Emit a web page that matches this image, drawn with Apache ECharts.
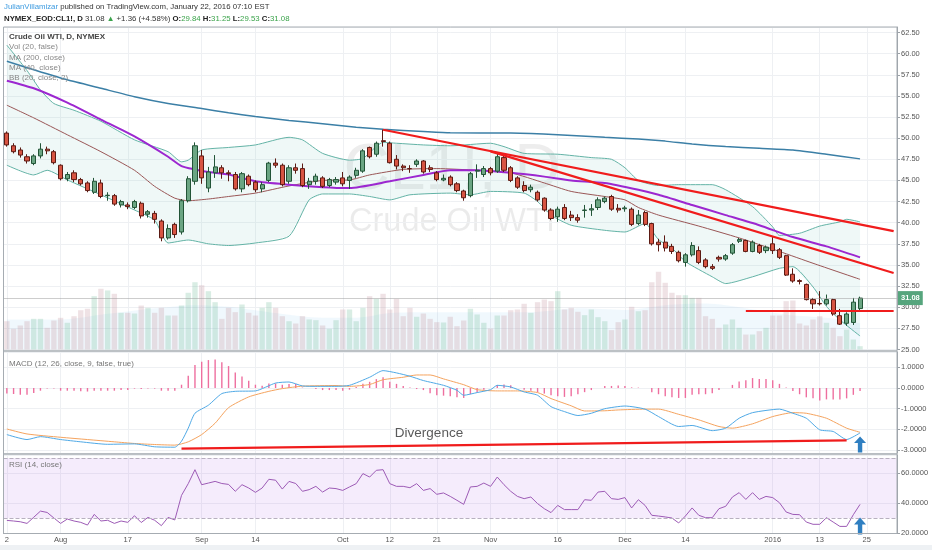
<!DOCTYPE html>
<html>
<head>
<meta charset="utf-8">
<script src="https://cdn.jsdelivr.net/npm/echarts@6/dist/echarts.min.js"></script>
<style>
html, body { margin: 0; padding: 0; background: #fff; }
#main { width: 932px; height: 550px; }
</style>
</head>
<body>
<div id="main"></div>
<script>
// trading days shown on the time axis (last five are empty future slots)
var julDays = [22,23,24,27,28,29,30,31];
var augDays = [3,4,5,6,7,10,11,12,13,14,17,18,19,20,21,24,25,26,27,28,31];
var sepDays = [1,2,3,4,8,9,10,11,14,15,16,17,18,21,22,23,24,25,28,29,30];
var octDays = [1,2,5,6,7,8,9,12,13,14,15,16,19,20,21,22,23,26,27,28,29,30];
var novDays = [2,3,4,5,6,9,10,11,12,13,16,17,18,19,20,23,24,25,27,30];
var decDays = [1,2,3,4,7,8,9,10,11,14,15,16,17,18,21,22,23,24,28,29,30,31];
var janDays = [4,5,6,7,8,11,12,13,14,15,19,20,21,22,25,26,27,28,29];

var tickDates = ['2015-07-22','2015-08-03','2015-08-17','2015-09-01','2015-09-14','2015-10-01','2015-10-12',
  '2015-10-21','2015-11-02','2015-11-16','2015-12-01','2015-12-14','2016-01-04','2016-01-13','2016-01-25'];
var tickText = ['2','Aug','17','Sep','14','Oct','12','21','Nov','16','Dec','14','2016','13','25'];

var opens = [50.6,49.1,48.6,47.8,47.0,47.9,48.7,48.4,
  46.8,45.2,45.9,45.1,44.7,43.6,44.7,43.2,43.2,42.1,
  42.1,41.8,42.3,41.0,41.1,40.2,38.2,39.8,38.9,42.6,44.9,
  47.9,44.1,45.9,46.5,45.9,45.7,44.0,45.5,44.8,44.0,45.0,47.05,46.8,44.9,46.5,46.4,44.5,44.9,45.3,44.4,44.8,
  45.3,45.0,45.6,46.1,48.9,48.1,49.7,49.4,47.5,46.7,46.4,46.9,47.3,46.5,45.9,45.05,45.4,44.6,43.75,43.2,46.1,45.7,
  46.4,46.1,47.7,46.5,45.3,44.4,43.9,43.6,42.9,41.5,40.7,41.8,40.9,40.6,41.45,41.5,41.8,42.5,43.1,41.7,
  41.65,41.6,39.9,41.2,39.9,37.7,37.7,37.2,36.5,35.3,36.2,36.7,35.6,34.8,35.9,35.7,36.4,37.8,37.9,36.6,37.3,36.7,
  37.5,36.8,36.1,33.9,33.15,32.7,30.9,30.45,30.4,30.9,29.0,28.1,28.2,29.84];
var closes = [49.2,48.4,48.0,47.3,47.9,48.7,48.5,47.1,
  45.2,45.7,45.1,44.6,43.8,44.9,43.1,43.25,42.2,42.5,
  41.9,42.5,40.8,41.3,40.4,38.2,39.3,38.6,42.6,45.2,49.1,
  45.3,46.0,46.6,45.9,45.8,44.0,45.8,44.5,43.9,44.5,47.05,46.8,44.5,46.5,46.2,44.4,44.9,45.5,44.3,45.1,45.1,
  44.6,45.4,46.2,48.5,47.8,49.4,49.6,47.1,46.7,46.5,46.38,47.3,46.0,46.3,45.1,45.25,44.5,43.8,42.95,45.8,46.2,46.4,
  45.9,47.8,46.2,45.0,44.2,43.8,44.2,42.7,41.5,40.5,41.6,40.5,40.6,40.3,41.5,41.65,42.7,42.9,41.6,41.5,
  41.75,39.8,40.9,39.8,37.5,37.4,37.0,36.6,35.5,36.2,37.3,35.3,34.8,34.6,35.7,36.1,37.4,38.0,36.6,37.7,36.5,37.1,
  36.7,35.9,33.8,33.1,33.05,30.9,30.4,30.4,30.9,29.2,28.0,29.2,30.6,31.08];
var lows = [49.0,48.2,47.7,47.0,46.8,47.6,48.1,46.9,
  45.0,44.9,44.8,44.4,43.6,43.4,42.9,42.6,42.0,41.8,
  41.6,41.6,40.5,40.6,39.9,37.8,38.0,38.2,38.6,42.4,44.5,
  44.6,43.6,45.3,45.2,44.9,43.8,43.6,44.3,43.6,43.6,44.8,46.5,44.3,44.6,45.8,44.2,44.0,44.5,44.1,44.2,44.5,
  44.3,44.0,45.3,45.9,47.6,47.8,49.0,47.0,46.3,46.1,45.9,46.6,45.8,46.0,44.9,44.9,44.3,43.6,42.6,43.0,45.3,45.4,
  45.6,45.9,46.0,44.8,44.0,43.6,43.6,42.5,41.3,40.3,40.1,40.3,40.2,40.0,40.6,40.8,41.5,42.3,41.4,41.2,
  41.3,39.6,39.7,39.6,37.3,36.6,36.6,36.3,35.3,34.8,36.0,35.1,34.6,34.4,35.4,35.5,36.2,37.6,36.5,36.5,36.3,36.4,
  36.3,35.7,33.7,32.9,32.7,30.8,29.8,30.2,30.2,29.0,27.9,27.8,27.9,29.53];
var highs = [50.8,49.4,48.9,48.1,48.1,49.4,49.0,48.6,
  46.9,46.0,46.2,45.3,44.9,45.3,45.1,43.6,43.4,42.7,
  42.4,42.7,42.5,41.5,41.4,40.4,39.8,40.0,42.8,45.5,49.5,
  48.6,46.6,48.0,46.8,46.2,46.0,46.0,45.7,45.0,44.8,47.2,47.6,47.0,46.8,47.0,47.0,45.3,45.8,45.5,45.3,45.4,
  46.0,45.6,46.5,48.7,49.0,49.6,51.0,49.6,48.0,46.9,46.8,47.5,47.4,46.8,46.1,45.7,45.6,44.8,43.9,46.0,46.9,46.7,
  46.6,48.2,47.9,46.7,45.5,44.9,44.5,43.8,43.0,41.7,41.9,42.2,41.4,41.0,42.1,42.2,43.0,43.1,43.3,42.2,
  42.0,41.8,41.5,41.4,40.0,38.1,38.5,37.5,36.7,36.4,37.7,37.2,35.8,35.1,36.1,36.3,37.6,38.2,38.0,37.9,37.5,37.3,
  38.3,37.0,36.2,34.6,33.3,32.8,31.1,31.9,31.5,31.0,29.8,29.4,31.1,31.25];

// volume, thousands of contracts
var volumes = [357,261,303,357,387,387,274,366,
  400,337,420,496,514,673,766,745,703,463,
  463,454,555,526,463,526,429,429,555,716,849,
  811,736,597,387,526,471,568,463,429,526,597,526,420,357,328,420,379,370,303,261,370,
  505,505,357,526,673,640,703,505,640,420,526,413,454,387,345,341,413,294,366,514,442,337,
  265,429,429,496,505,577,463,597,631,610,736,505,526,476,433,505,408,357,244,345,
  379,539,483,496,849,981,842,716,685,685,652,652,420,387,274,316,379,274,189,189,231,274,
  429,429,610,618,328,303,379,420,337,274,168,252,126,42];
var volMa = [[0,380],[8,380],[15,450],[22,520],[28,560],[33,540],[40,460],[47,400],[52,400],[57,460],
  [63,470],[70,470],[78,470],[85,520],[92,500],[98,560],[104,580],[110,520],[116,440],[122,400],[127,330]];

// overlays read at [bar index, price]
var ma200 = [[0,59.1],[4,58.1],[9,56.9],[14,55.9],[19,54.9],[24,54.1],[29,53.5],[33,53.0],[37,52.55],[42,52.1],
  [47,51.7],[52,51.3],[56,51.05],[62,50.8],[66,50.65],[75,50.6],[82,50.4],[89,50.1],[94,49.9],[98,49.65],
  [102,49.3],[107,49.0],[112,48.8],[117,48.6],[122,48.1],[127,47.55]];
var ma50 = [[0,56.8],[4,55.9],[9,54.2],[14,52.2],[19,50.2],[24,47.8],[26,46.7],[28,46.3],[30,46.0],[33,45.7],
  [37,44.9],[42,44.5],[47,44.2],[51,44.1],[57,44.9],[62,45.65],[66,46.2],[70,46.2],[75,45.9],[80,45.45],
  [84,45.0],[89,44.7],[94,43.9],[97,43.3],[102,42.1],[107,40.9],[112,39.7],[117,38.3],[122,37.2],[127,35.9]];
var bbMid = [[0,53.9],[4,52.4],[9,50.4],[14,48.4],[19,46.2],[22,44.3],[25,42.9],[27,42.6],[30,42.8],[33,43.1],
  [37,43.5],[42,44.35],[47,45.0],[51,45.06],[54,45.65],[59,46.3],[64,46.4],[70,46.2],[75,45.9],[80,44.7],
  [84,43.7],[89,43.1],[92,42.7],[94,41.8],[97,40.9],[103,39.6],[109,38.2],[115,36.6],[120,35.2],[127,33.3]];
var bbUp = [[0,61.0],[3,58.0],[5,55.7],[7,54.1],[10,53.3],[14,52.0],[19,49.8],[24,48.4],[26,47.2],[27,47.4],
  [29,48.6],[33,48.9],[37,49.2],[42,50.1],[44,49.8],[47,48.2],[51,47.4],[53,47.6],[56,49.5],[58,49.4],
  [62,49.2],[66,49.1],[72,49.4],[74,49.0],[77,48.2],[82,48.1],[87,47.7],[90,47.5],[92,46.5],[94,45.0],
  [97,44.4],[100,44.5],[105,44.5],[107,43.9],[111,41.9],[114,39.5],[115,38.5],[118,38.75],[121,39.6],
  [124,40.1],[125,40.4],[127,40.1]];
var bbLow = [[0,46.8],[4,45.65],[6,46.2],[9,45.06],[14,43.3],[19,41.5],[22,40.3],[24,37.6],[27,37.95],[30,37.5],
  [33,37.3],[37,37.6],[42,38.4],[45,42.7],[47,43.4],[51,43.4],[54,43.1],[57,42.7],[60,43.3],[66,43.5],
  [69,43.3],[72,43.7],[77,43.5],[79,42.5],[81,40.9],[84,39.7],[89,39.1],[92,38.9],[95,39.9],[97,38.0],
  [99,37.0],[101,35.4],[105,33.6],[107,32.8],[111,33.6],[115,34.6],[117,34.8],[120,32.4],[122,30.1],
  [124,28.5],[127,26.6]];

// MACD (12, 26, 9)
var macdLine = [[0,-2.25],[3,-2.49],[5,-2.35],[8,-2.49],[11,-2.6],[15,-2.72],[19,-2.7],[22,-2.84],[25,-2.86],
  [26,-2.57],[27,-1.94],[28,-1.22],[30,-0.83],[32,-0.27],[34,-0.16],[37,-0.14],[40,0.24],[42,0.29],[44,0.1],
  [46,0.08],[49,0.08],[51,0.13],[54,0.52],[56,0.84],[58,0.73],[60,0.57],[62,0.36],[65,0.13],[67,-0.11],
  [68,-0.35],[70,-0.22],[72,-0.08],[73,0.13],[75,0.05],[77,-0.19],[79,-0.35],[81,-0.9],[83,-1.14],[85,-1.33],
  [87,-1.22],[89,-1.0],[92,-0.87],[95,-1.02],[97,-1.38],[100,-1.86],[102,-1.81],[105,-2.06],[107,-1.94],
  [109,-1.46],[111,-1.19],[115,-1.02],[117,-1.22],[119,-1.46],[121,-2.02],[123,-2.1],[125,-2.49],[127,-2.17]];
var signalLine = [[0,-1.98],[3,-2.22],[8,-2.38],[12,-2.49],[16,-2.6],[19,-2.68],[22,-2.73],[25,-2.76],[27,-2.6],
  [29,-2.25],[31,-1.7],[33,-0.95],[36,-0.43],[39,-0.16],[41,-0.03],[44,0.09],[49,0.12],[51,0.08],[54,0.17],
  [56,0.4],[59,0.52],[61,0.63],[63,0.63],[65,0.44],[68,0.16],[70,-0.08],[73,-0.14],[76,-0.14],[79,-0.22],
  [81,-0.51],[84,-0.86],[86,-1.11],[89,-1.1],[91,-1.06],[95,-1.02],[97,-1.02],[100,-1.27],[103,-1.54],
  [106,-1.86],[108,-1.94],[111,-1.73],[114,-1.38],[117,-1.19],[119,-1.22],[122,-1.46],[125,-1.94],[127,-2.14]];
var macdHist = [-0.27,-0.29,-0.32,-0.33,-0.24,-0.13,-0.02,-0.02,
  -0.13,-0.13,-0.13,-0.16,-0.17,-0.13,-0.13,-0.13,-0.13,-0.10,
  -0.10,-0.03,-0.05,-0.02,-0.03,-0.13,-0.13,-0.13,0.16,0.59,1.11,
  1.27,1.35,1.38,1.25,1.06,0.75,0.56,0.35,0.16,0.11,0.22,0.22,0.16,0.19,0.19,0.02,0.0,-0.05,-0.10,-0.10,-0.10,
  -0.13,-0.08,0.05,0.20,0.30,0.43,0.52,0.30,0.20,0.10,0.02,-0.05,-0.10,-0.25,-0.35,-0.37,-0.40,-0.45,-0.48,-0.30,-0.20,-0.08,
  0.0,0.15,0.17,0.13,0.0,-0.08,-0.13,-0.20,-0.27,-0.35,-0.40,-0.43,-0.40,-0.30,-0.20,-0.10,0.0,0.10,0.10,0.12,
  0.10,0.03,0.02,0.0,-0.20,-0.30,-0.40,-0.45,-0.48,-0.48,-0.33,-0.30,-0.30,-0.25,-0.10,0.0,0.15,0.32,0.37,0.48,0.43,0.43,
  0.38,0.20,0.02,-0.15,-0.30,-0.45,-0.50,-0.60,-0.55,-0.55,-0.55,-0.50,-0.33,-0.15];

// RSI (14)
var rsi = [28.4,28.0,27.5,26.4,30.5,34.6,33.7,30.0,
  26.4,29.3,28.0,27.1,25.3,32.4,28.0,28.5,26.4,28.0,
  27.1,31.5,27.0,30.4,28.5,24.9,30.4,28.7,45.1,52.9,62.2,
  52.2,53.3,54.4,53.0,52.4,47.8,52.2,50.0,47.1,50.0,55.8,55.2,49.3,54.4,53.0,47.8,48.9,51.1,47.3,50.0,49.6,
  48.4,50.7,52.9,59.6,57.3,61.8,62.2,52.9,51.1,51.1,50.2,52.9,48.4,49.6,45.8,46.7,44.4,41.8,39.1,50.7,51.1,53.3,
  51.1,57.3,52.2,47.8,44.4,42.9,44.0,39.6,36.2,33.6,38.4,35.6,35.6,35.6,42.2,41.8,47.3,47.8,42.9,42.4,
  43.6,36.7,42.2,38.4,31.8,31.3,30.7,30.0,26.7,31.3,36.7,31.8,30.2,30.2,36.2,37.8,44.0,46.9,42.4,46.9,42.4,44.4,
  43.6,40.2,34.0,32.4,32.2,27.3,25.8,25.8,30.2,27.3,24.4,24.4,32.2,39.1];

// drawn annotations: [bar index, value]
var trendUpper = [[56, 51.0], [132, 39.0]];
var trendLower = [[72, 48.44], [132, 34.05]];
var supportLine = [[110, 29.6], [132, 29.6]];
var macdDivergence = [[26, -2.93], [125, -2.53]];
var macdArrowAt = [127.3, -2.73];
var rsiArrowAt = [127, 24.7];

// ---- build category axis ----
function pad(n) { return n < 10 ? '0' + n : '' + n; }
var dates = [];
[['2015-07', julDays], ['2015-08', augDays], ['2015-09', sepDays], ['2015-10', octDays],
 ['2015-11', novDays], ['2015-12', decDays], ['2016-01', janDays]].forEach(function (m) {
  m[1].forEach(function (d) { dates.push(m[0] + '-' + pad(d)); });
});
var tickMap = {};
for (var t = 0; t < tickDates.length; t++) tickMap[tickDates[t]] = tickText[t];
function showTick(index, value) { return tickMap[value] !== undefined; }

var ohlc = [];
for (var i = 0; i < closes.length; i++) {
  ohlc.push([opens[i], closes[i], lows[i], highs[i]]);
}
var volData = volumes.map(function (v, k) {
  return {
    value: v,
    itemStyle: { color: closes[k] >= opens[k] ? 'rgba(108,185,150,0.26)' : 'rgba(196,150,160,0.28)' }
  };
});

var SMALL = '"Liberation Sans Narrow","Liberation Sans",Arial,sans-serif';
var GRID_LINE = '#eef0f3';
var AXIS = '#9aa0a6';
var arrowPath = 'path://M6,0 L12,7 L8.2,7 L8.2,17 L3.8,17 L3.8,7 L0,7 Z';

function xAxisFor(g) {
  return {
    type: 'category', gridIndex: g, data: dates, boundaryGap: true,
    axisLine: { show: g === 2, lineStyle: { color: AXIS } },
    axisTick: { show: false },
    axisLabel: {
      show: g === 2, interval: showTick, margin: 3,
      formatter: function (v) { return tickMap[v] || ''; },
      fontSize: 7.5, fontFamily: SMALL, color: '#555'
    },
    splitLine: { show: true, interval: showTick, alignWithLabel: true, lineStyle: { color: GRID_LINE } }
  };
}
function priceAxisLabel(digits) {
  return {
    fontSize: 7.5, fontFamily: SMALL, color: '#555', margin: 4,
    formatter: function (v) { return v.toFixed(digits); }
  };
}

function txt(x, y, text, size, fill, weight, align) {
  return {
    type: 'text', x: x, y: y, silent: true, z: 10,
    style: {
      text: text, fill: fill, fontSize: size, fontFamily: SMALL, fontWeight: weight || 'normal',
      align: align || 'left', textAlign: align || 'left',
      verticalAlign: 'middle', textVerticalAlign: 'middle'
    }
  };
}
function richTxt(x, y, text, rich) {
  return {
    type: 'text', x: x, y: y, silent: true, z: 10,
    style: {
      text: text, rich: rich, fill: '#333', fontSize: 7.8, fontFamily: SMALL,
      verticalAlign: 'middle', textVerticalAlign: 'middle'
    }
  };
}
function tok(fill, weight) {
  return { fill: fill, fontSize: 7.8, fontFamily: SMALL, fontWeight: weight || 'normal' };
}

var chart = echarts.init(document.getElementById('main'));

var option = {
  animation: false,
  backgroundColor: '#fff',
  grid: [
    { left: 3.5, right: 35, top: 27, height: 322.5 },
    { left: 3.5, right: 35, top: 352, height: 101 },
    { left: 3.5, right: 35, top: 455, height: 78 }
  ],
  xAxis: [xAxisFor(0), xAxisFor(1), xAxisFor(2)],
  yAxis: [
    {
      gridIndex: 0, position: 'right', min: 25, max: 63.15, interval: 2.5,
      axisLine: { show: true, lineStyle: { color: AXIS } },
      axisTick: { show: true, length: 3, lineStyle: { color: AXIS } },
      axisLabel: Object.assign(priceAxisLabel(2), { showMaxLabel: false }),
      splitLine: { lineStyle: { color: GRID_LINE } }
    },
    { gridIndex: 0, min: 0, max: 4070, show: false },
    {
      gridIndex: 1, position: 'right', min: -3.14, max: 1.74, splitNumber: 5,
      axisLine: { show: true, lineStyle: { color: AXIS } },
      axisTick: { show: true, length: 3, lineStyle: { color: AXIS } },
      axisLabel: Object.assign(priceAxisLabel(4), { showMaxLabel: false, showMinLabel: false }),
      splitLine: { lineStyle: { color: GRID_LINE } }
    },
    {
      gridIndex: 2, position: 'right', min: 20, max: 72, splitNumber: 3,
      axisLine: { show: true, lineStyle: { color: AXIS } },
      axisTick: { show: true, length: 3, lineStyle: { color: AXIS } },
      axisLabel: Object.assign(priceAxisLabel(4), { showMaxLabel: false }),
      splitLine: { lineStyle: { color: GRID_LINE } }
    }
  ],
  series: [
    {
      name: 'BB fill', type: 'custom', xAxisIndex: 0, yAxisIndex: 0, silent: true, z: 1,
      data: [[0, 40]], encode: { x: 0, y: 1 },
      renderItem: function (params, api) {
        var pts = [];
        bbUp.forEach(function (p) { pts.push(api.coord(p)); });
        for (var k = bbLow.length - 1; k >= 0; k--) pts.push(api.coord(bbLow[k]));
        return { type: 'polygon', shape: { points: pts }, style: { fill: 'rgba(130,200,190,0.13)' } };
      }
    },
    {
      name: 'Vol', type: 'bar', xAxisIndex: 0, yAxisIndex: 1, barWidth: '80%', z: 1, silent: true,
      data: volData
    },
    {
      name: 'Vol MA', type: 'line', xAxisIndex: 0, yAxisIndex: 1, z: 1, silent: true, smooth: 0.3,
      showSymbol: false, lineStyle: { width: 0 }, areaStyle: { color: 'rgba(120,190,235,0.16)' },
      data: volMa
    },
    {
      name: 'BB upper', type: 'line', xAxisIndex: 0, yAxisIndex: 0, z: 2, showSymbol: false, smooth: 0.2,
      lineStyle: { color: '#63b3a6', width: 1 }, data: bbUp
    },
    {
      name: 'BB lower', type: 'line', xAxisIndex: 0, yAxisIndex: 0, z: 2, showSymbol: false, smooth: 0.2,
      lineStyle: { color: '#63b3a6', width: 1 }, data: bbLow
    },
    {
      name: 'BB basis', type: 'line', xAxisIndex: 0, yAxisIndex: 0, z: 2, showSymbol: false, smooth: 0.2,
      lineStyle: { color: '#9a5656', width: 1 }, data: bbMid
    },
    {
      name: 'MA 200', type: 'line', xAxisIndex: 0, yAxisIndex: 0, z: 3, showSymbol: false, smooth: 0.2,
      lineStyle: { color: '#3b7fa6', width: 1.5 }, data: ma200
    },
    {
      name: 'MA', type: 'line', xAxisIndex: 0, yAxisIndex: 0, z: 3, showSymbol: false, smooth: 0.2,
      lineStyle: { color: '#9c27d0', width: 2 }, data: ma50
    },
    {
      name: 'CL1!', type: 'candlestick', xAxisIndex: 0, yAxisIndex: 0, z: 4, barWidth: 4.6,
      itemStyle: {
        color: '#6ba583', color0: '#d75442',
        borderColor: '#225437', borderColor0: '#5b1a13', borderWidth: 1
      },
      data: ohlc,
      markLine: {
        silent: true, symbol: ['none', 'none'], animation: false,
        data: [
          {
            yAxis: closes[closes.length - 1],
            lineStyle: { type: 'dotted', color: '#9a9a9a', width: 1 },
            label: {
              show: true, position: 'end', distance: 1,
              formatter: closes[closes.length - 1].toFixed(2),
              backgroundColor: '#56a57d', color: '#fff', padding: [3, 3],
              fontSize: 7.5, fontWeight: 'bold', fontFamily: SMALL
            }
          },
          [{ coord: trendUpper[0] }, { coord: trendUpper[1] }],
          [{ coord: trendLower[0] }, { coord: trendLower[1] }],
          [{ coord: supportLine[0] }, { coord: supportLine[1] }]
        ],
        lineStyle: { color: '#f01c1c', width: 2.2, type: 'solid' },
        label: { show: false }
      }
    },
    {
      name: 'Histogram', type: 'bar', xAxisIndex: 1, yAxisIndex: 2, barWidth: 1.4, silent: true,
      itemStyle: { color: '#ee6f9f' }, data: macdHist
    },
    {
      name: 'MACD', type: 'line', xAxisIndex: 1, yAxisIndex: 2, showSymbol: false, smooth: 0.2, z: 3,
      lineStyle: { color: '#4fa9e6', width: 1 }, data: macdLine,
      markLine: {
        silent: true, symbol: ['none', 'none'], animation: false,
        lineStyle: { color: '#f01c1c', width: 2.2, type: 'solid' }, label: { show: false },
        data: [[{ coord: macdDivergence[0] }, { coord: macdDivergence[1] }]]
      },
      markPoint: {
        silent: true, animation: false,
        data: [{ coord: macdArrowAt, symbol: arrowPath, symbolSize: [12, 16], itemStyle: { color: '#2f7fc1' }, label: { show: false } }]
      }
    },
    {
      name: 'Signal', type: 'line', xAxisIndex: 1, yAxisIndex: 2, showSymbol: false, smooth: 0.2, z: 2,
      lineStyle: { color: '#f5a35e', width: 1 }, data: signalLine
    },
    {
      name: 'RSI', type: 'line', xAxisIndex: 2, yAxisIndex: 3, showSymbol: false, z: 3,
      lineStyle: { color: '#9d5bb6', width: 1 }, data: rsi,
      markArea: {
        silent: true,
        itemStyle: { color: 'rgba(170,100,230,0.12)' },
        data: [[{ yAxis: 70 }, { yAxis: 30 }]]
      },
      markLine: {
        silent: true, symbol: ['none', 'none'], animation: false, label: { show: false },
        lineStyle: { color: '#b8b0c0', type: 'dashed', width: 1 },
        data: [{ yAxis: 70 }, { yAxis: 30 }]
      },
      markPoint: {
        silent: true, animation: false,
        data: [{ coord: rsiArrowAt, symbol: arrowPath, symbolSize: [12, 17], itemStyle: { color: '#2f7fc1' }, label: { show: false } }]
      }
    }
  ],
  graphic: [
    // watermark
    {
      type: 'text', x: 452, y: 171, silent: true, z: 0,
      style: { text: 'CL1!, D', fill: 'rgba(0,0,0,0.07)', fontSize: 64, fontFamily: '"Liberation Sans",Arial,sans-serif',
        align: 'center', textAlign: 'center', verticalAlign: 'middle', textVerticalAlign: 'middle' }
    },
    {
      type: 'text', x: 452, y: 222, silent: true, z: 0,
      style: { text: 'Crude Oil WTI', fill: 'rgba(0,0,0,0.08)', fontSize: 32.5, fontFamily: '"Liberation Sans",Arial,sans-serif',
        align: 'center', textAlign: 'center', verticalAlign: 'middle', textVerticalAlign: 'middle' }
    },
    // frame and pane separators
    { type: 'rect', silent: true, z: 9, shape: { x: 3.5, y: 27, width: 893.5, height: 506.5 },
      style: { fill: 'none', stroke: '#a6acb2', lineWidth: 1 } },
    { type: 'line', silent: true, z: 9, shape: { x1: 3.5, y1: 351, x2: 897, y2: 351 }, style: { stroke: '#a6acb2', lineWidth: 1.5 } },
    { type: 'line', silent: true, z: 9, shape: { x1: 3.5, y1: 454, x2: 897, y2: 454 }, style: { stroke: '#a6acb2', lineWidth: 1.5 } },
    { type: 'rect', silent: true, z: 9, shape: { x: 0, y: 545, width: 932, height: 5 }, style: { fill: '#eef1f4' } },
    // header
    richTxt(4, 7, '{u|JulianVillamizar}{n| published on TradingView.com, January 22, 2016 07:10 EST}',
      { u: tok('#3d9be0'), n: tok('#333') }),
    richTxt(4, 18.5,
      '{b|NYMEX_EOD:CL1!, D}{n| 31.08 }{g|\u25B2}{n| +1.36 (+4.58%) }{b|O:}{g|29.84 }{b|H:}{g|31.25 }{b|L:}{g|29.53 }{b|C:}{g|31.08}',
      { b: tok('#222', 'bold'), n: tok('#333'), g: tok('#3aa34a') }),
    // pane legends
    txt(9, 36.7, 'Crude Oil WTI, D, NYMEX', 8, '#444', 'bold'),
    txt(9, 47, 'Vol (20, false)', 8, '#888'),
    txt(9, 57.4, 'MA (200, close)', 8, '#888'),
    txt(9, 67.8, 'MA (40, close)', 8, '#888'),
    txt(9, 78.2, 'BB (20, close, 2)', 8, '#888'),
    txt(9, 363.7, 'MACD (12, 26, close, 9, false, true)', 8, '#777'),
    txt(9, 464.3, 'RSI (14, close)', 8, '#777'),
    {
      type: 'text', x: 429, y: 433.5, silent: true, z: 10,
      style: { text: 'Divergence', fill: '#5a5a5a', fontSize: 13.5, fontFamily: '"Liberation Sans",Arial,sans-serif',
        align: 'center', textAlign: 'center', verticalAlign: 'middle', textVerticalAlign: 'middle' }
    }
  ]
};

chart.setOption(option);
</script>
</body>
</html>
